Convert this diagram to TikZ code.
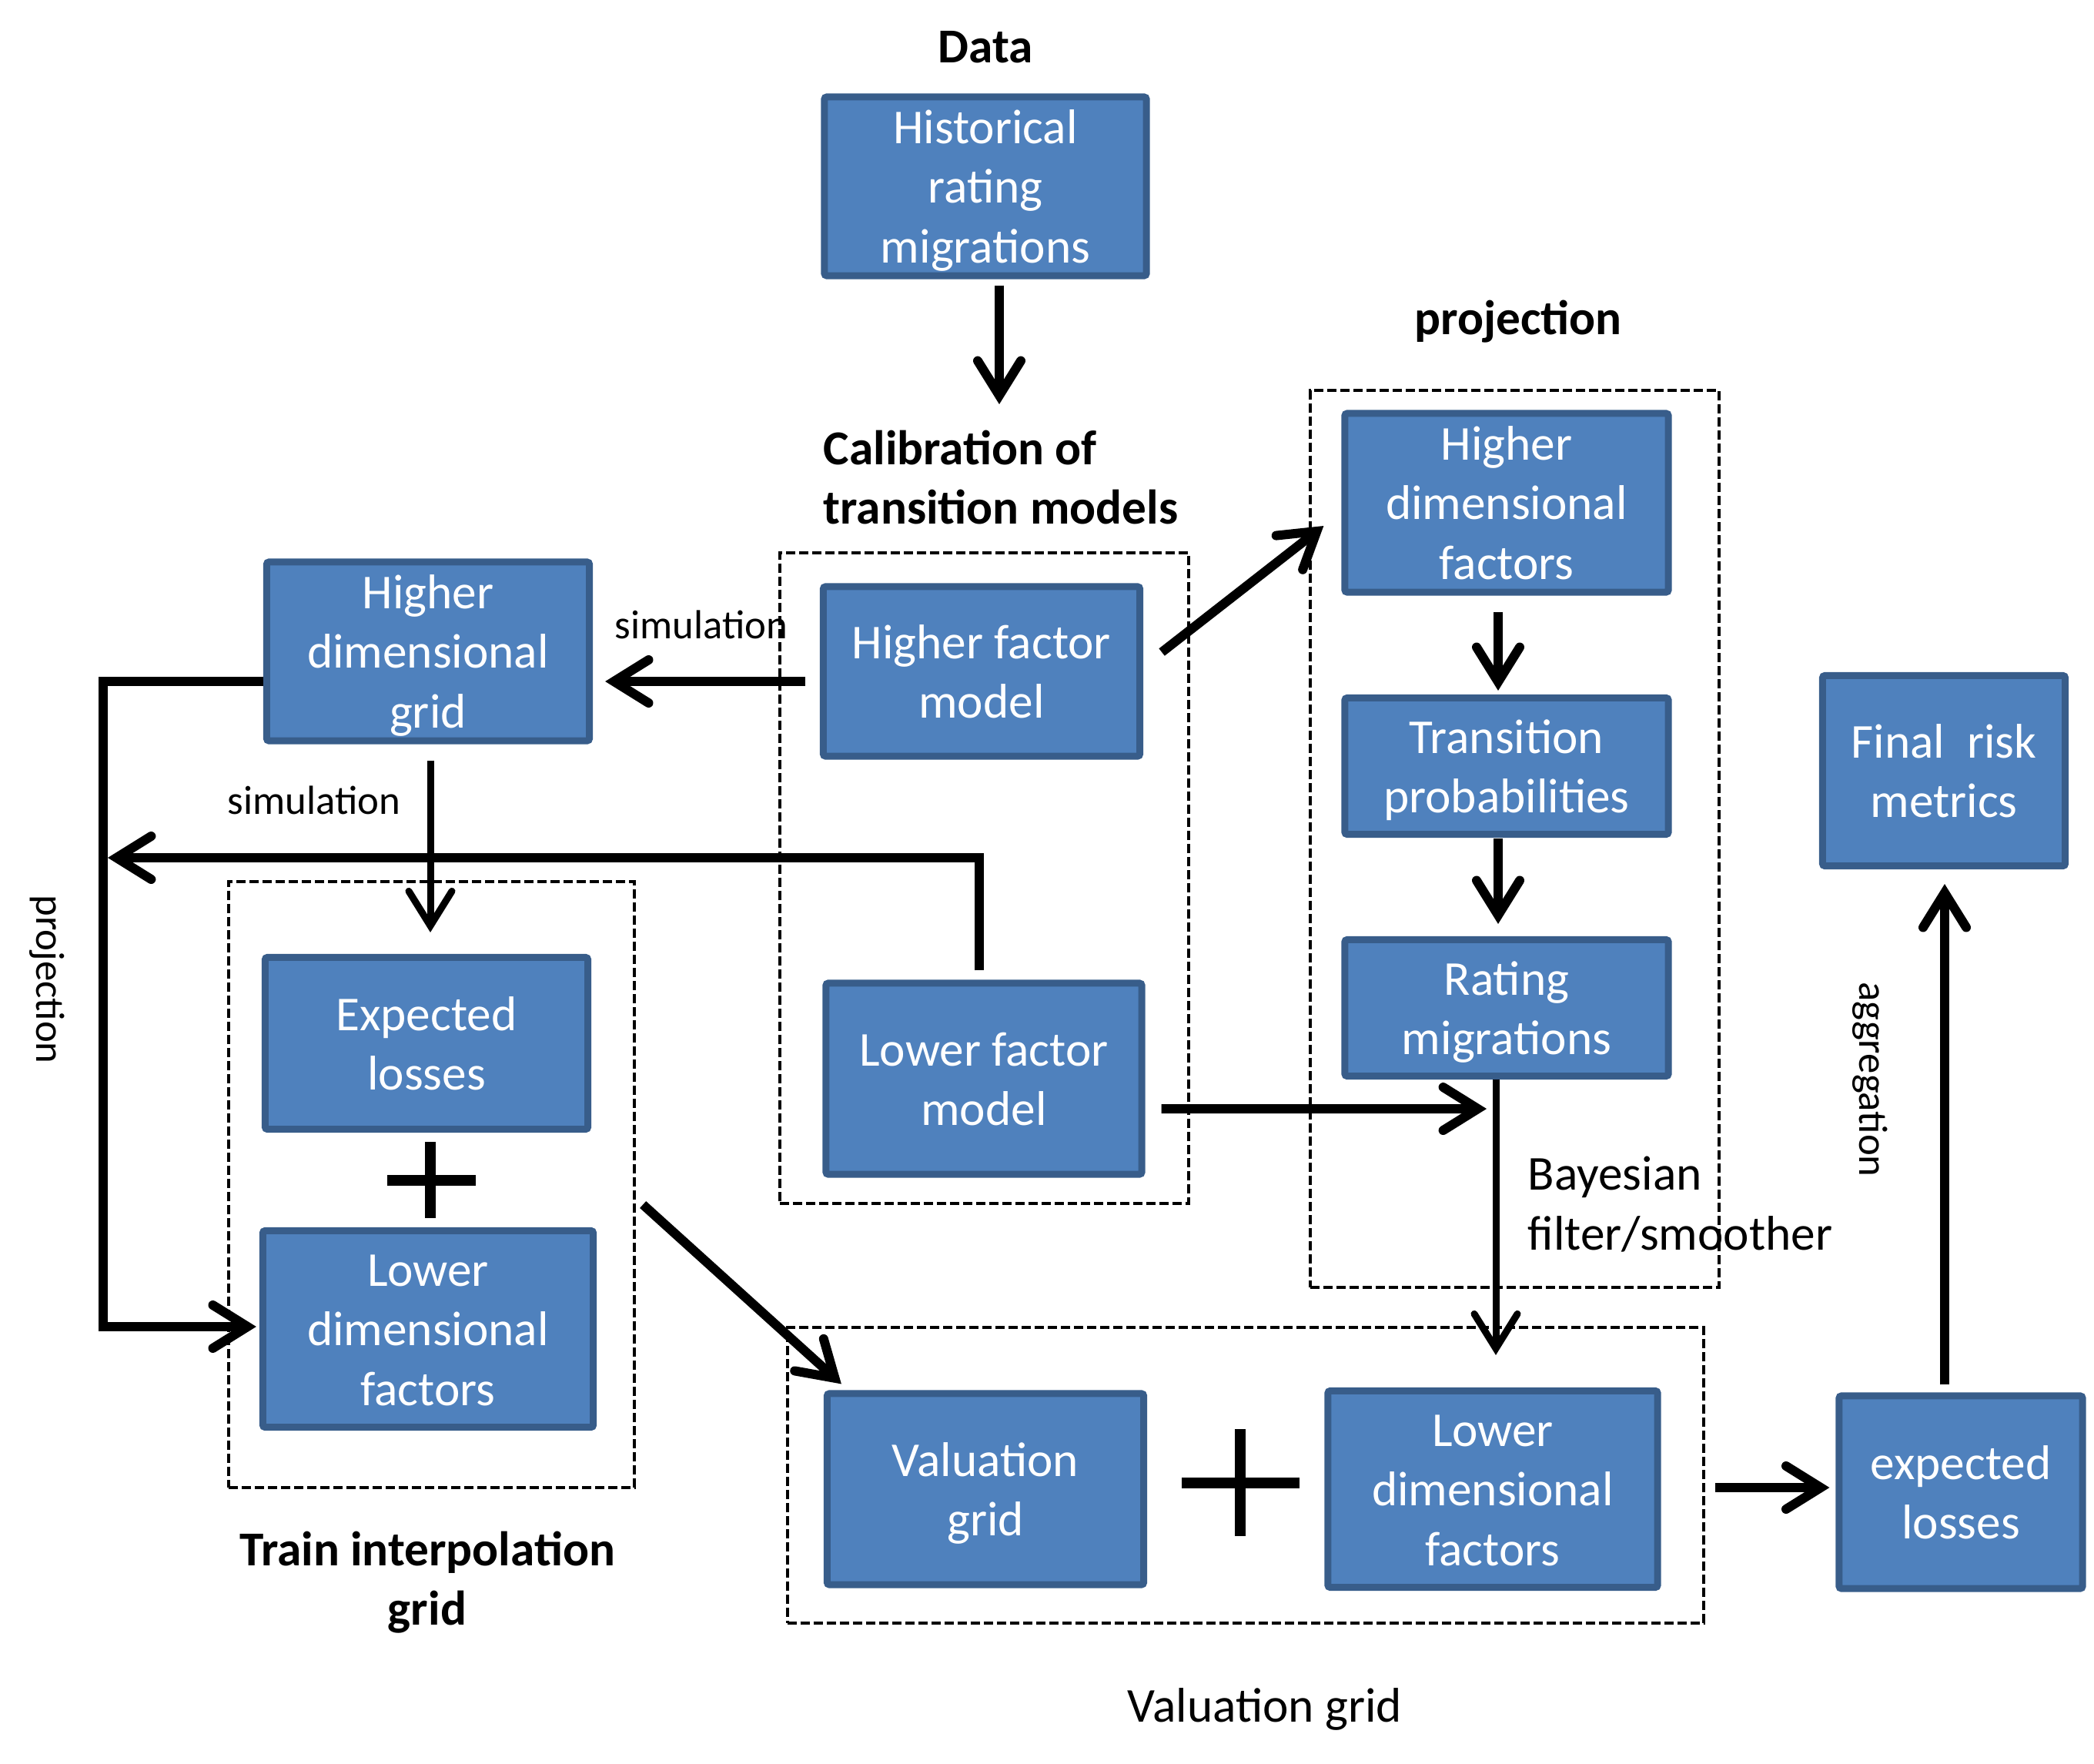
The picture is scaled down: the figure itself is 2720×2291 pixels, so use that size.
\documentclass[tikz,border=0pt]{standalone}
\usepackage{fontspec}
\setmainfont{Carlito}
\usetikzlibrary{arrows.meta,calc}
\definecolor{boxfill}{HTML}{4F81BD}
\definecolor{boxborder}{HTML}{385D8A}
\newcommand\bxt[1]{\raisebox{-0.065cm}[\height][\depth]{\begin{tabular}{@{}c@{}}#1\end{tabular}}}
\begin{document}
\begin{tikzpicture}[x=0.01cm,y=-0.01cm,
  box/.style={draw=boxborder, fill=boxfill, line width=0.09cm, rounded corners=0.03cm,
    text=white, align=center, inner sep=0pt, font=\fontsize{18}{22}\selectfont},
  arr/.style={line width=0.12cm, line join=miter,
    -{Straight Barb[length=0.45cm,width=0.56cm,line cap=round,line join=miter]}},
  tarr/.style={arr, line width=0.09cm},
  dbox/.style={draw, line width=0.04cm, dash pattern=on 0.12cm off 0.05cm, inner sep=0pt},
  blbl/.style={inner sep=0pt, font=\bfseries\fontsize{18}{22}\selectfont},
  lbl/.style={inner sep=0pt, font=\fontsize{18}{22}\selectfont},
  slbl/.style={inner sep=0pt, font=\fontsize{15}{18}\selectfont},
  plus/.style={line width=0.14cm}]
\useasboundingbox (0,0) rectangle (2720,2291);

% dashed groups
\node[dbox, minimum width=5.31cm, minimum height=8.45cm] (calib) at (1278.5,1140.5) {};
\node[dbox, minimum width=5.31cm, minimum height=11.65cm] (proj) at (1967.5,1089.5) {};
\node[dbox, minimum width=5.27cm, minimum height=7.87cm] (train) at (560.5,1538.5) {};
\node[dbox, minimum width=11.90cm, minimum height=3.84cm] (valbox) at (1618,1916) {};

% boxes
\node[box, minimum width=4.18cm, minimum height=2.21cm] (hist) at (1280,242) {\bxt{Historical\\rating\\migrations}};
\node[box, minimum width=4.11cm, minimum height=2.20cm] (hfm) at (1275,872) {\bxt{Higher factor\\model}};
\node[box, minimum width=4.10cm, minimum height=2.48cm] (lfm) at (1278,1401) {\bxt{Lower factor\\model}};
\node[box, minimum width=4.19cm, minimum height=2.24cm] (hdg) at (556,846) {\bxt{Higher\\dimensional\\grid}};
\node[box, minimum width=4.19cm, minimum height=2.23cm] (elL) at (554,1355) {\bxt{Expected\\losses}};
\node[box, minimum width=4.29cm, minimum height=2.55cm] (ldfL) at (556,1726) {\bxt{Lower\\dimensional\\factors}};
\node[box, minimum width=4.20cm, minimum height=2.21cm] (hdf) at (1957,653) {\bxt{Higher\\dimensional\\factors}};
\node[box, minimum width=4.20cm, minimum height=1.77cm] (tp) at (1957,995) {\bxt{Transition\\probabilities}};
\node[box, minimum width=4.20cm, minimum height=1.77cm] (rm) at (1957,1309) {\bxt{Rating\\migrations}};
\node[box, minimum width=4.11cm, minimum height=2.48cm] (vg) at (1280,1934) {\bxt{Valuation\\grid}};
\node[box, minimum width=4.28cm, minimum height=2.55cm] (ldfB) at (1939,1934) {\bxt{Lower\\dimensional\\factors}};
\node[box, minimum width=3.16cm, minimum height=2.50cm] (elR) at (2547,1938) {\bxt{expected\\losses}};
\node[box, minimum width=3.15cm, minimum height=2.47cm] (frm) at (2525,1001) {\bxt{Final\ \ risk\\metrics}};

% labels
\node[blbl] (data) at (1280,61) {Data};
\node[blbl, anchor=west, align=left] (calibl) at (1069,620) {Calibration of\\transition models};
\node[blbl] (projl) at (1972,418) {projection};
\node[blbl, align=center] (trainl) at (555,2055) {Train interpolation\\grid};
\node[lbl] (vall) at (1643,2220) {Valuation grid};
\node[lbl, anchor=west, align=left] (bayes) at (1984,1564) {Bayesian\\filter/smoother};
\node[slbl] (sim1) at (911,811) {simulation};
\node[slbl] (sim2) at (408,1039) {simulation};
\node[slbl, rotate=-90] (projv) at (61,1272) {projection};
\node[slbl, rotate=-90] (aggl) at (2429,1402) {aggregation};

% plus signs
\draw[plus] (503,1533) -- (618,1533) (559,1483) -- (559,1582);
\draw[plus] (1535,1926) -- (1688,1926) (1611,1856) -- (1611,1995);

% connectors
\coordinate (calibin) at (1298,525);
\draw[arr] ($(hist.south -| calibin)+(0,8)$) -- (calibin);
\draw[arr] ($(hfm.west)+(-19,13)$) -- ($(hdg.east)+(16,39)$);
\draw[arr] ($(hfm.east)+(24,-25)$) -- ($(hdf.west)+(-23,30)$);
\draw[arr] ($(hdg.west)+(0,39)$) -| ($(ldfL.west)+(-203,-3)$) -- ($(ldfL.west)+(-4,-3)$);
\coordinate (lcorner) at (140,1114);
\draw[arr] ($(lfm.north)+(-6,-12)$) |- (lcorner);
\draw[tarr] ($(hdg.south)+(3,21)$) -- ($(elL.north)+(5,-28)$);
\draw[arr] ($(hdf.south)+(-11,21)$) -- ($(tp.north)+(-11,-5)$);
\draw[arr] ($(tp.south)+(-11,1)$) -- ($(rm.north)+(-11,-16)$);
\draw[arr] ($(lfm.east)+(21,39)$) -- ($(rm.south)+(-26,38)$);
\draw[tarr] ($(rm.south)+(-14,0)$) -- ($(ldfB.north)+(4,-42)$);
\draw[arr] ($(train.east)+(9,26)$) -- ($(vg.north west)+(23,-8)$);
\draw[arr] ($(valbox.east)+(13,16)$) -- ($(elR.west)+(-8,-6)$);
\draw[arr] ($(elR.north)+(-21,-10)$) -- ($(frm.south)+(1,19)$);
\end{tikzpicture}
\end{document}
